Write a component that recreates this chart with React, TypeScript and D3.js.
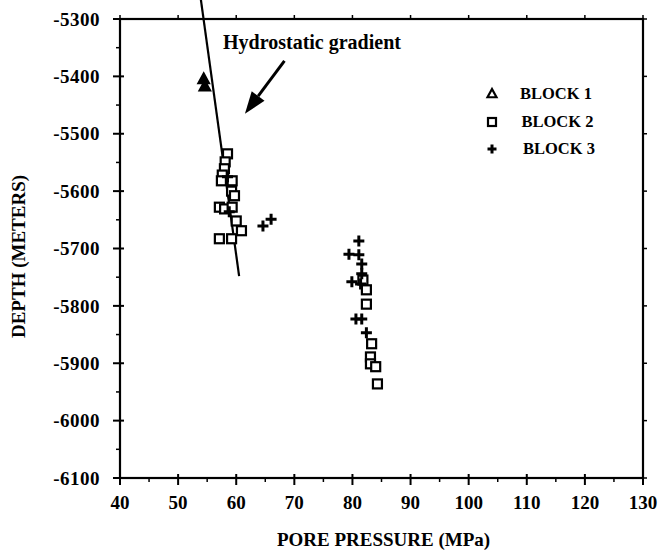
import React from 'react';
import * as d3 from 'd3';

const xTickValues = [40, 50, 60, 70, 80, 90, 100, 110, 120, 130];
const yTickValues = [-5300, -5400, -5500, -5600, -5700, -5800, -5900, -6000, -6100];

const block1Pressure = [54.4, 54.6];
const block1Depth = [-5405, -5418];

const block2Pressure = [58.5, 58.1, 57.97, 57.6, 57.45, 59.3, 59.2, 59.7, 57.1, 58.0, 59.3, 60.0, 60.9, 57.1, 59.2,
  81.8, 82.4, 82.4, 83.3, 83.1, 83.1, 84.0, 84.3];
const block2Depth = [-5535, -5549, -5561, -5572, -5582, -5582, -5600, -5608, -5628, -5631, -5628, -5652, -5669, -5683, -5683,
  -5755, -5772, -5797, -5866, -5889, -5901, -5906, -5936];

const block3Pressure = [58.5, 58.8, 64.6, 66.0, 81.1, 79.4, 81.1, 81.6, 81.6, 79.9, 81.4, 80.6, 81.6, 82.4];
const block3Depth = [-5575, -5636, -5661, -5649, -5687, -5710, -5711, -5727, -5744, -5758, -5762, -5823, -5823, -5847];

const gradientPressure = [53.9, 60.5];
const gradientDepth = [-5265, -5748];
const arrowPressure = [68.3, 61.5];
const arrowDepth = [-5373, -5465];

const legendLabels = ['BLOCK 1', 'BLOCK 2', 'BLOCK 3'];
const annotationText = 'Hydrostatic gradient';
const xTitle = 'PORE PRESSURE (MPa)';
const yTitle = 'DEPTH (METERS)';

const W = 666, H = 553;
const L = 120, R = 643, T = 19, B = 478;
const FONT = '"Liberation Serif", "Times New Roman", serif';

const x = d3.scaleLinear().domain([40, 130]).range([L, R]);
const y = d3.scaleLinear().domain([-5300, -6100]).range([T, B]);

function tri(cx: number, cy: number, s: number) {
  return `M${cx},${cy - s}L${cx + s * 0.9},${cy + s * 0.65}L${cx - s * 0.9},${cy + s * 0.65}Z`;
}
function plus(cx: number, cy: number, s: number) {
  return `M${cx - s},${cy}L${cx + s},${cy}M${cx},${cy - s}L${cx},${cy + s}`;
}

export default function App() {
  const minorX = d3.range(45, 130, 10);
  const minorY = d3.range(-5350, -6100, -100);
  const lineGen = d3.line<number>().x((_, i) => x(gradientPressure[i])).y((_, i) => y(gradientDepth[i]));
  const ax0 = x(arrowPressure[0]), ay0 = y(arrowDepth[0]);
  const ax1 = x(arrowPressure[1]), ay1 = y(arrowDepth[1]);
  const ang = Math.atan2(ay1 - ay0, ax1 - ax0);
  const hl = 22, hw = 8;
  const bx = ax1 - hl * Math.cos(ang), by = ay1 - hl * Math.sin(ang);
  const head = `M${ax1},${ay1}L${bx + hw * Math.sin(ang)},${by - hw * Math.cos(ang)}L${bx - hw * Math.sin(ang)},${by + hw * Math.cos(ang)}Z`;

  return (
    <svg width={W} height={H} style={{ position: 'absolute', left: 0, top: 0, background: '#fff' }}
      fontFamily={FONT}>
      <rect x={0} y={0} width={W} height={H} fill="#fff" />
      {/* frame */}
      <rect x={L} y={T} width={R - L} height={B - T} fill="none" stroke="#000" strokeWidth={2.2} />
      {/* y ticks */}
      {yTickValues.map(v => (
        <g key={v}>
          <line x1={L - 7} x2={L + 4} y1={y(v)} y2={y(v)} stroke="#000" strokeWidth={2} />
          <line x1={R} x2={R + 4} y1={y(v)} y2={y(v)} stroke="#000" strokeWidth={1.5} />
          <text x={L - 20} y={y(v)} dy="0.35em" textAnchor="end" fontSize={19} fontWeight="bold"
            letterSpacing={0.5}>{v}</text>
        </g>
      ))}
      {minorY.map(v => (
        <line key={v} x1={L - 4} x2={L} y1={y(v)} y2={y(v)} stroke="#000" strokeWidth={1.5} />
      ))}
      {/* x ticks */}
      {xTickValues.map(v => (
        <g key={v}>
          <line x1={x(v)} x2={x(v)} y1={B - 4} y2={B + 7} stroke="#000" strokeWidth={2} />
          <line x1={x(v)} x2={x(v)} y1={T} y2={T - 4} stroke="#000" strokeWidth={1.5} />
          <text x={x(v)} y={B + 31} textAnchor="middle" fontSize={19} fontWeight="bold">{v}</text>
        </g>
      ))}
      {minorX.map(v => (
        <line key={v} x1={x(v)} x2={x(v)} y1={B} y2={B + 4} stroke="#000" strokeWidth={1.5} />
      ))}
      {/* titles */}
      <text x={(L + R) / 2 + 2} y={546} textAnchor="middle" fontSize={19} fontWeight="bold">{xTitle}</text>
      <text transform={`translate(25,${(T + B) / 2 + 8}) rotate(-90)`} textAnchor="middle" fontSize={19} fontWeight="bold">{yTitle}</text>
      {/* gradient line */}
      <path d={lineGen([0, 1]) || ''} fill="none" stroke="#000" strokeWidth={2.2} />
      <text x={223} y={49} fontSize={20} fontWeight="bold">{annotationText}</text>
      <line x1={ax0} y1={ay0} x2={bx} y2={by} stroke="#000" strokeWidth={3} />
      <path d={head} fill="#000" />
      {/* data */}
      {block2Pressure.map((p, i) => (
        <rect key={'b2' + i} x={x(p) - 4.5} y={y(block2Depth[i]) - 4.5} width={9} height={9}
          fill="#fff" stroke="#000" strokeWidth={2.2} />
      ))}
      {block3Pressure.map((p, i) => (
        <path key={'b3' + i} d={plus(x(p), y(block3Depth[i]), 5.5)} stroke="#000" strokeWidth={3} fill="none" />
      ))}
      {block1Pressure.map((p, i) => (
        <path key={'b1' + i} d={tri(x(p), y(block1Depth[i]), 6)} fill="#000" stroke="#000" strokeWidth={2} />
      ))}
      {/* legend */}
      <path d={tri(492, 94, 5)} fill="none" stroke="#000" strokeWidth={2.2} />
      <rect x={488} y={118} width={8} height={8} fill="none" stroke="#000" strokeWidth={2.2} />
      <path d={plus(492, 149, 4.5)} stroke="#000" strokeWidth={3} />
      {legendLabels.map((t, i) => (
        <text key={t} x={520 + i * 1.5} y={99 + i * 27.5} fontSize={16.5} fontWeight="bold">{t}</text>
      ))}
    </svg>
  );
}
